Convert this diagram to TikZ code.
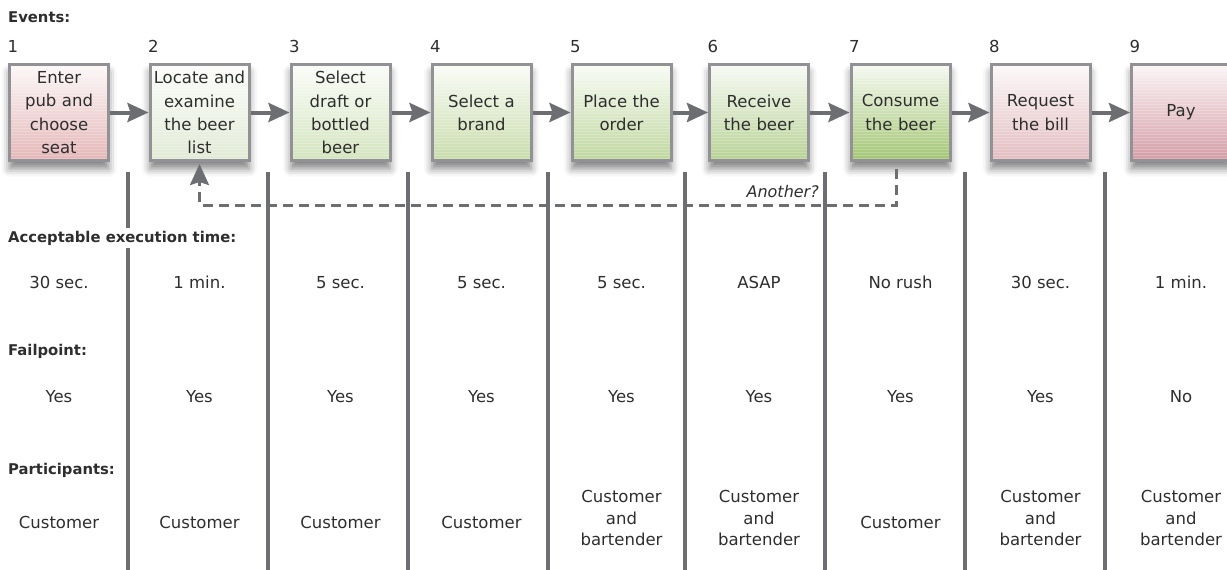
\documentclass[tikz,border=0pt]{standalone}
\usepackage{fontspec}
\setmainfont{DejaVu Sans}
\usetikzlibrary{arrows.meta,shadows.blur}
\definecolor{linegray}{HTML}{6D6E71}
\definecolor{boxgray}{HTML}{919196}
\definecolor{txt}{HTML}{2E2E2E}
\definecolor{cA}{HTML}{E4B6B7}
\definecolor{cB}{HTML}{E1EAD5}
\definecolor{cC}{HTML}{D3E4BE}
\definecolor{cD}{HTML}{C8DCAA}
\definecolor{cE}{HTML}{BFD79E}
\definecolor{cF}{HTML}{B7D194}
\definecolor{cG}{HTML}{A2C572}
\definecolor{cH}{HTML}{E2BCC0}
\definecolor{cI}{HTML}{D49CA5}
\newcommand\boxfnt{\fontsize{16.5}{23.3}\selectfont}
\newcommand\valfnt{\fontsize{16.5}{21.5}\selectfont}
\newcommand\headfnt{\fontsize{14.8}{18}\selectfont\bfseries}
\begin{document}
\begin{tikzpicture}[x=1pt,y=-1pt,
  evbox/.style={draw=boxgray, line width=3pt, minimum width=99pt, minimum height=96pt,
    inner sep=0pt, text width=99pt, align=center, font=\boxfnt, text=txt,
    top color=#1!10!white, bottom color=#1,
    blur shadow={shadow xshift=0pt, shadow yshift=-8pt, shadow blur radius=8pt, shadow opacity=50},
    path picture={\foreach \k in {3,6,...,96}
      \fill[white,opacity=0.22] ([yshift=-\k*1pt]path picture bounding box.north west) rectangle ++(130pt,-1.2pt);}},
  num/.style={font=\boxfnt, text=txt, inner sep=0pt, anchor=base west},
  head/.style={font=\headfnt, text=txt, inner xsep=0pt, inner ysep=3pt, fill=white, anchor=base west},
  val/.style={font=\valfnt, text=txt, inner sep=0pt, align=center},
  flow/.style={draw=linegray, line width=4pt, -{Stealth[length=21pt,width=19pt,inset=3pt]}},
  back/.style={draw=linegray, line width=3pt, dash pattern=on 10pt off 6pt, -{Stealth[length=21pt,width=19pt,inset=3pt]}},
  sep/.style={draw=linegray, line width=3.5pt}
]
\useasboundingbox (0,0) rectangle (1227,570);

% separators
\foreach \x in {128,268,408,548,685,825,965,1105}
  \draw[sep] (\x,172) -- (\x,570);

% event boxes
\node[evbox=cA] (b1) at (59,112.5) {Enter\\pub and\\choose\\seat};
\node[evbox=cB] (b2) at (199.5,112.5) {Locate and\\examine\\the beer\\list};
\node[evbox=cC] (b3) at (340.5,112.5) {Select\\draft or\\bottled\\beer};
\node[evbox=cD] (b4) at (481.5,112.5) {Select a\\brand};
\node[evbox=cE] (b5) at (621.5,112.5) {Place the\\order};
\node[evbox=cF] (b6) at (759,112.5) {Receive\\the beer};
\node[evbox=cG] (b7) at (900.5,112.5) {Consume\\the beer};
\node[evbox=cH] (b8) at (1040.5,112.5) {Request\\the bill};
\node[evbox=cI] (b9) at (1181,112.5) {Pay};

% numbers
\foreach \i in {1,...,9}
  \node[num] (n\i) at ([xshift=-0.5pt,yshift=10.5pt]b\i.north west) {\i};

% flow arrows
\foreach \i [evaluate=\i as \j using int(\i+1)] in {1,...,8}
  \draw[flow] (b\i) -- (b\j);

% loop back
\draw[back] ([xshift=-4.5pt,yshift=-6.5pt]b7.south) -- ++(0,36.5) -| ([yshift=-2pt]b2.south);
\node[font=\fontsize{16}{19}\selectfont\itshape, text=txt, inner sep=0pt, anchor=base east] (another) at (819,197) {Another?};

% section headings
\node[head] (hEv) at (8,23) {Events:};
\node[head] (hEx) at (8,242) {Acceptable execution time:};
\node[head] (hFa) at (8,355) {Failpoint:};
\node[head] (hPa) at (8,474) {Participants:};

% execution time
\foreach \x/\t [count=\i] in {59/{30 sec.},199.5/{1 min.},340.5/{5 sec.},481.5/{5 sec.},621.5/{5 sec.},759/{ASAP},900.5/{No rush},1040.5/{30 sec.},1181/{1 min.}}
  \node[val, anchor=base] (t\i) at (\x,288) {\t};

% failpoint
\foreach \x/\t [count=\i] in {59/Yes,199.5/Yes,340.5/Yes,481.5/Yes,621.5/Yes,759/Yes,900.5/Yes,1040.5/Yes,1181/No}
  \node[val, anchor=base] (f\i) at (\x,402) {\t};

% participants
\node[val, anchor=base] (p1) at (59,528) {Customer};
\node[val, anchor=base] (p2) at (199.5,528) {Customer};
\node[val, anchor=base] (p3) at (340.5,528) {Customer};
\node[val, anchor=base] (p4) at (481.5,528) {Customer};
\node[val] (p5) at (621.5,518) {Customer\\and\\bartender};
\node[val] (p6) at (759,518) {Customer\\and\\bartender};
\node[val, anchor=base] (p7) at (900.5,528) {Customer};
\node[val] (p8) at (1040.5,518) {Customer\\and\\bartender};
\node[val] (p9) at (1181,518) {Customer\\and\\bartender};
\end{tikzpicture}
\end{document}
